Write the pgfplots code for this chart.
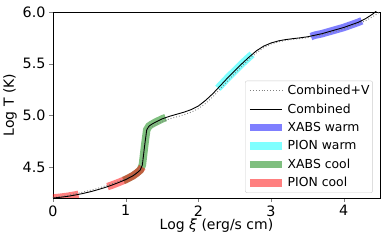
\documentclass[border=0pt]{standalone}
\usepackage{pgfplots}
\pgfplotsset{compat=1.18}
\usepackage{fontspec}
\setmainfont{DejaVu Sans}
\definecolor{mgreen}{HTML}{008000}
\definecolor{mblue}{HTML}{0000FF}
\definecolor{mcyan}{HTML}{00FFFF}
\definecolor{mred}{HTML}{FF0000}
\begin{document}
\begin{tikzpicture}
\begin{axis}[
  name=ax,
  scale only axis,
  width=327bp, height=186bp,
  xmin=0, xmax=4.5, ymin=4.2, ymax=6.0,
  xtick={0,1,2,3,4},
  ytick={4.5,5.0,5.5,6.0},
  yticklabel style={/pgf/number format/.cd,fixed,fixed zerofill,precision=1},
  /pgf/number format/assume math mode=true,
  tick label style={font=\fontsize{14.3bp}{16bp}\selectfont},
  label style={font=\fontsize{14bp}{16bp}\selectfont},
  tick align=outside,
  tick pos=left,
  major tick length=4bp,
  xlabel={Log \textit{ξ} (erg/s cm)},
  ylabel={Log T (K)},
  xlabel style={yshift=4bp},
  ylabel style={yshift=-1bp},
  legend cell align=left,
  legend style={at={(0.978,0.027)}, anchor=south east,
    draw=black!20, rounded corners=2pt, fill=white, fill opacity=0.8, text opacity=1,
    font=\fontsize{12.4bp}{14bp}\selectfont, row sep=3.6bp, inner xsep=1bp, inner ysep=2.5bp},
  legend image code/.code={\draw[#1, line cap=butt] (0bp,0bp) -- (32bp,0bp);},
]
\addlegendimage{gray, dotted, line width=0.9pt}
\addlegendentry{Combined+V}
\addlegendimage{black, line width=0.9pt}
\addlegendentry{Combined}

\addplot[mblue, opacity=0.5, line width=7.5bp, line cap=butt] coordinates {
(3.55,5.762) (3.6,5.775) (3.7,5.79) (3.8,5.81) (3.9,5.83) (4.0,5.85) (4.1,5.875) (4.2,5.90) (4.25,5.915)};
\addlegendentry{XABS warm}
\addplot[mcyan, opacity=0.5, line width=7.5bp, line cap=butt] coordinates {
(2.27,5.263) (2.3,5.285) (2.4,5.36) (2.5,5.43) (2.6,5.50) (2.7,5.565) (2.74,5.59)};
\addlegendentry{PION warm}
\addplot[mgreen, opacity=0.5, line width=7.5bp, line cap=butt] coordinates {
(0.97,4.37) (1.0,4.378) (1.1,4.415) (1.15,4.44) (1.2,4.47) (1.23,4.52) (1.26,4.70) (1.29,4.86) (1.32,4.895) (1.35,4.91) (1.4,4.93) (1.5,4.965) (1.55,4.978)};
\addlegendentry{XABS cool}
\addplot[mred, opacity=0.5, line width=7.5bp, line cap=butt] coordinates {
(0,4.200) (0.1,4.207) (0.2,4.216) (0.3,4.228) (0.35,4.235)};
\addlegendentry{PION cool}
\addplot[mred, opacity=0.5, line width=7.5bp, line cap=butt, forget plot] coordinates {
(0.75,4.31) (0.8,4.322) (0.9,4.349) (1.0,4.378) (1.1,4.415) (1.15,4.44) (1.2,4.47) (1.23,4.50)};

\addplot[gray, dotted, line width=0.9pt, forget plot] coordinates {
(0,4.205) (0.2,4.225) (0.4,4.255) (0.6,4.29) (0.8,4.335) (1.0,4.385) (1.1,4.42) (1.18,4.46) (1.22,4.52) (1.25,4.68) (1.29,4.85) (1.33,4.88) (1.4,4.905) (1.5,4.94) (1.6,4.965) (1.7,4.985) (1.8,5.005) (1.9,5.03) (2.0,5.065) (2.1,5.115) (2.2,5.18) (2.3,5.255) (2.4,5.33) (2.5,5.405) (2.6,5.475) (2.7,5.545) (2.8,5.605) (2.9,5.655) (3.0,5.69) (3.1,5.71) (3.2,5.725) (3.3,5.735) (3.4,5.743) (3.5,5.752) (3.6,5.765) (3.7,5.78) (3.8,5.797) (3.9,5.815) (4.0,5.835) (4.1,5.86) (4.2,5.885) (4.3,5.915) (4.4,5.955) (4.5,6.0)};
\addplot[black, line width=0.9pt, forget plot] coordinates {
(0,4.200) (0.1,4.207) (0.2,4.216) (0.3,4.228) (0.4,4.242) (0.5,4.258) (0.6,4.277) (0.7,4.298) (0.8,4.322) (0.9,4.349) (1.0,4.378) (1.1,4.415) (1.15,4.44) (1.2,4.47) (1.23,4.52) (1.26,4.70) (1.29,4.86) (1.32,4.895) (1.35,4.91) (1.4,4.93) (1.5,4.965) (1.6,4.99) (1.7,5.01) (1.8,5.03) (1.9,5.055) (2.0,5.09) (2.1,5.145) (2.2,5.21) (2.3,5.285) (2.4,5.36) (2.5,5.43) (2.6,5.50) (2.7,5.565) (2.8,5.625) (2.9,5.67) (3.0,5.70) (3.1,5.72) (3.2,5.733) (3.3,5.742) (3.4,5.75) (3.5,5.76) (3.6,5.775) (3.7,5.79) (3.8,5.81) (3.9,5.83) (4.0,5.85) (4.1,5.875) (4.2,5.90) (4.3,5.935) (4.4,5.98) (4.45,6.01)};
\end{axis}
\path ([shift={(-53bp,-46bp)}]ax.south west) rectangle ([shift={(6bp,12bp)}]ax.north east);
\end{tikzpicture}
\end{document}
